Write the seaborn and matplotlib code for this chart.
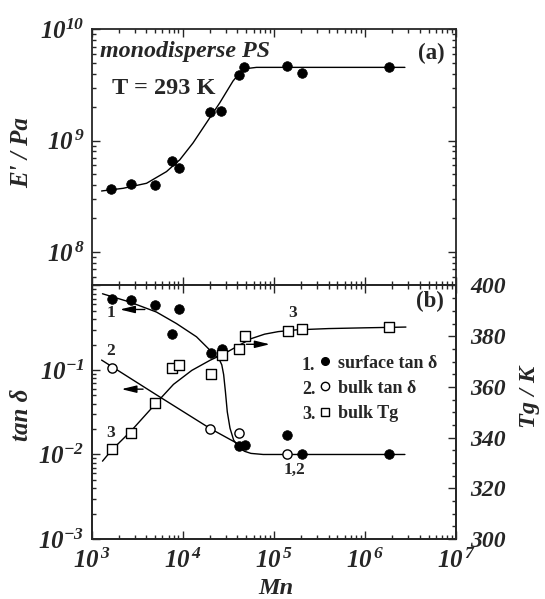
import numpy as np
import pandas as pd
import matplotlib
matplotlib.use("Agg")
import matplotlib.pyplot as plt
import seaborn as sns
from matplotlib.lines import Line2D
from matplotlib.ticker import LogLocator, MultipleLocator, NullFormatter
from matplotlib.font_manager import FontProperties

# ---------------- data ----------------
# panel (a): storage modulus
mn_a = [1655, 2700, 4920, 7550, 9010, 20000, 26700, 41700, 47700, 140000, 205000, 1.82e6]
e_a = [3.68e8, 4.06e8, 3.97e8, 6.59e8, 5.73e8, 1.82e9, 1.86e9, 3.87e9, 4.6e9, 4.7e9, 4.05e9, 4.6e9]
fit_a_mn = [1290, 2220, 4020, 6650, 9310, 13000, 18300, 25600, 35800, 46100, 64700, 117000, 2.75e6]
fit_a_e = [3.53e8, 3.73e8, 4.14e8, 5.27e8, 6.73e8, 9.53e8, 1.45e9, 2.19e9, 3.44e9, 4.40e9, 4.55e9, 4.55e9, 4.55e9]

# panel (b): surface tan delta
mn_surf = [1660, 2700, 4950, 7600, 9010, 20400, 26900, 41400, 48200, 140000, 205000, 1.85e6]
tan_surf = [0.684, 0.667, 0.593, 0.268, 0.523, 0.157, 0.177, 0.0125, 0.0131, 0.0172, 0.0100, 0.0100]
fit_surf_mn = [1320, 2630, 5160, 8570, 14200, 19900, 25100, 26900, 28200, 29500, 30900, 33100,
               36300, 41700, 47900, 56200, 76600, 2.75e6]
fit_surf_tan = [0.798, 0.637, 0.485, 0.354, 0.247, 0.172, 0.135, 0.115, 0.088, 0.055, 0.032, 0.0205,
                0.0148, 0.0120, 0.0109, 0.0103, 0.0100, 0.0100]

# panel (b): bulk tan delta
mn_bulk = [1660, 20200, 41700, 140000]
tan_bulk = [0.106, 0.0202, 0.018, 0.0100]
fit_bulk_mn = [1290, 5160, 20200, 38900, 44400]
fit_bulk_tan = [0.131, 0.0508, 0.0202, 0.0137, 0.0118]

# panel (b): bulk Tg (right axis)
mn_tg = [1660, 2700, 4950, 7600, 9080, 20400, 26900, 41700, 48200, 144000, 205000, 1.84e6]
tg = [335.3, 341.9, 353.8, 367.6, 368.8, 365.1, 372.5, 375.1, 380.1, 382.1, 382.7, 383.6]
fit_tg_mn = [1320, 1660, 2700, 4950, 7940, 12600, 20000, 28200, 39800, 56200, 79400, 112000,
             178000, 398000, 1.0e6, 2.82e6]
fit_tg = [330.7, 335.0, 342.5, 353.0, 361.0, 366.5, 370.5, 373.0, 376.0, 379.0, 380.8, 381.8,
          382.5, 383.0, 383.3, 383.6]

x_ticks = [1e3, 1e4, 1e5, 1e6, 1e7]
x_tick_labels = [r'$10^{\,3}$', r'$10^{\,4}$', r'$10^{\,5}$', r'$10^{\,6}$', r'$10^{\,7}$']
ya_ticks = [1e8, 1e9, 1e10]
ya_tick_labels = [r'$10^{\,8}$', r'$10^{\,9}$', r'$10^{10}$']
yb_ticks = [1e-3, 1e-2, 1e-1, 1]
yb_tick_labels = [r'$10^{-3}$', r'$10^{-2}$', r'$10^{-1}$', '']
tg_ticks = [300, 320, 340, 360, 380, 400]
legend_labels = ['surface tan δ', 'bulk tan δ', 'bulk Tg']

# ---------------- style ----------------
sns.set_style("ticks")
plt.rcParams['font.family'] = ['Liberation Serif', 'DejaVu Serif']
plt.rcParams['mathtext.fontset'] = 'custom'
plt.rcParams['mathtext.rm'] = 'Liberation Serif:bold:italic'
plt.rcParams['mathtext.it'] = 'Liberation Serif:bold:italic'
plt.rcParams['mathtext.bf'] = 'Liberation Serif:bold:italic'

fig = plt.figure(figsize=(5.45, 5.99), dpi=100)
ax_a = fig.add_axes([0.1679, 0.5234, 0.6688, 0.4277])
ax_b = fig.add_axes([0.1679, 0.1002, 0.6688, 0.4232])
ax_t = ax_b.twinx()

for ax in (ax_a, ax_b):
    ax.set_xscale('log')
    ax.set_yscale('log')
    ax.set_xlim(1e3, 1e7)
ax_t.set_xscale('log')
ax_a.set_ylim(5e7, 1e10)
ax_b.set_ylim(1e-3, 1)
ax_t.set_ylim(300, 400)
ax_t.set_xlim(1e3, 1e7)

lw_fit = 1.0
# panel (a)
sns.lineplot(x=fit_a_mn, y=fit_a_e, ax=ax_a, color='k', lw=lw_fit, sort=False, estimator=None)
sns.scatterplot(x=mn_a, y=e_a, ax=ax_a, color='k', marker='o', s=48, edgecolor='k', linewidth=0.5, zorder=3)

# panel (b)
sns.lineplot(x=fit_surf_mn, y=fit_surf_tan, ax=ax_b, color='k', lw=lw_fit, sort=False, estimator=None)
sns.lineplot(x=fit_bulk_mn, y=fit_bulk_tan, ax=ax_b, color='k', lw=lw_fit, sort=False, estimator=None)
sns.scatterplot(x=mn_surf, y=tan_surf, ax=ax_b, color='k', marker='o', s=48, edgecolor='k', linewidth=0.5, zorder=3)
sns.scatterplot(x=mn_bulk, y=tan_bulk, ax=ax_b, color='white', marker='o', s=44, edgecolor='k', linewidth=1.0, zorder=4)
sns.lineplot(x=fit_tg_mn, y=fit_tg, ax=ax_t, color='k', lw=lw_fit, sort=False, estimator=None)
sns.scatterplot(x=mn_tg, y=tg, ax=ax_t, color='white', marker='s', s=44, edgecolor='k', linewidth=1.0, zorder=4)

# ---------------- axes / ticks ----------------
for ax in (ax_a, ax_b, ax_t):
    for sp in ax.spines.values():
        sp.set_linewidth(1.3)
        sp.set_visible(True)

ax_a.set_xticks(x_ticks)
ax_a.xaxis.set_minor_locator(LogLocator(base=10, subs=np.arange(2, 10)))
ax_a.xaxis.set_minor_formatter(NullFormatter())
ax_a.set_yticks(ya_ticks, labels=ya_tick_labels, fontsize=18)
ax_a.yaxis.set_minor_locator(LogLocator(base=10, subs=np.arange(2, 10)))
ax_a.yaxis.set_minor_formatter(NullFormatter())
ax_a.tick_params(axis='both', which='both', direction='in', top=True, right=True,
                 labelbottom=False, width=1.0)
ax_a.tick_params(which='major', length=5.5, pad=5)
ax_a.tick_params(which='minor', length=3)

ax_b.set_xticks(x_ticks, labels=x_tick_labels, fontsize=18)
ax_b.xaxis.set_minor_locator(LogLocator(base=10, subs=np.arange(2, 10)))
ax_b.xaxis.set_minor_formatter(NullFormatter())
ax_b.set_yticks(yb_ticks, labels=yb_tick_labels, fontsize=18)
ax_b.yaxis.set_minor_locator(LogLocator(base=10, subs=np.arange(2, 10)))
ax_b.yaxis.set_minor_formatter(NullFormatter())
ax_b.tick_params(axis='both', which='both', direction='in', top=True, right=False, width=1.0)
ax_b.tick_params(which='major', length=5.5)
ax_b.tick_params(axis='y', which='major', pad=5)
ax_b.tick_params(axis='x', which='major', pad=7)
ax_b.tick_params(which='minor', length=3)

ax_t.set_yticks(tg_ticks, labels=[str(t) for t in tg_ticks], fontsize=17)
for lab in ax_t.get_yticklabels():
    lab.set_fontweight('bold')
    lab.set_fontstyle('italic')
ax_t.yaxis.set_minor_locator(MultipleLocator(5))
ax_t.tick_params(axis='y', which='both', direction='in', right=True, left=False, width=1.0)
ax_t.tick_params(axis='y', which='major', length=5.5, pad=10)
ax_t.tick_params(axis='y', which='minor', length=3)
ax_t.tick_params(axis='x', which='both', bottom=False, top=False, labelbottom=False, labeltop=False)

lab_kw = dict(fontsize=18, fontweight='bold', fontstyle='italic')
ax_a.set_ylabel("E' / Pa", **lab_kw)
ax_a.yaxis.set_label_coords(-0.16, 0.52)
ax_b.set_ylabel("tan δ", **lab_kw)
ax_b.yaxis.set_label_coords(-0.16, 0.49)
ax_b.set_xlabel("Mn", fontsize=17.5, fontweight='bold', fontstyle='italic')
ax_b.xaxis.set_label_coords(0.507, -0.152)
ax_t.set_ylabel("Tg / K", fontsize=17.5, fontweight='bold', fontstyle='italic')
ax_t.yaxis.set_label_coords(1.172, 0.56)

# ---------------- annotations ----------------
ax_a.text(0.023, 0.913, "monodisperse PS", transform=ax_a.transAxes, fontsize=17.3,
          fontweight='bold', fontstyle='italic', ha='left', va='center')
ax_a.text(0.055, 0.77, "T = 293 K", transform=ax_a.transAxes, fontsize=17.5,
          fontweight='bold', ha='left', va='center')
ax_a.text(0.97, 0.904, "(a)", transform=ax_a.transAxes, fontsize=16.5,
          fontweight='bold', ha='right', va='center')
ax_t.text(0.966, 0.936, "(b)", transform=ax_b.transAxes, fontsize=16.5,
          fontweight='bold', ha='right', va='center')

num_kw = dict(fontsize=12.5, fontweight='bold', ha='center', va='center')
ax_t.text(0.0535, 0.890, "1", transform=ax_b.transAxes, **num_kw)
ax_t.text(0.0535, 0.743, "2", transform=ax_b.transAxes, **num_kw)
ax_t.text(0.0535, 0.417, "3", transform=ax_b.transAxes, **num_kw)
ax_t.text(0.551, 0.890, "3", transform=ax_b.transAxes, **num_kw)
ax_t.text(0.558, 0.272, "1,2", transform=ax_b.transAxes, **num_kw)

arrow_kw = dict(arrowstyle='-|>,head_length=0.9,head_width=0.22', color='k', lw=1.0,
                mutation_scale=10, shrinkA=0, shrinkB=0)
ax_b.annotate("", xy=(2050, 0.52), xytext=(3850, 0.52), arrowprops=arrow_kw)
ax_b.annotate("", xy=(2130, 0.0593), xytext=(3680, 0.0593), arrowprops=arrow_kw)
ax_t.annotate("", xy=(90600, 376.8), xytext=(50100, 376.8), arrowprops=arrow_kw)

# legend
handles = [
    Line2D([], [], ls='none', marker='o', color='k', ms=5.5),
    Line2D([], [], ls='none', marker='o', mfc='white', mec='k', mew=1.0, ms=6),
    Line2D([], [], ls='none', marker='s', mfc='white', mec='k', mew=1.0, ms=6),
]
leg = ax_t.legend(handles=handles, labels=legend_labels, loc='upper left',
                  bbox_to_anchor=(0.621, 0.727), bbox_transform=ax_b.transAxes,
                  frameon=False, handlelength=0.8, handletextpad=0.3,
                  labelspacing=0.45, borderpad=0, borderaxespad=0,
                  prop=FontProperties(family='Liberation Serif', weight='bold', size=13))
for i, y in enumerate([0.686, 0.588, 0.493]):
    ax_t.text(0.577, y, f"{i + 1}.", transform=ax_b.transAxes, fontsize=13,
              fontweight='bold', ha='left', va='center')

fig.savefig("out.png", dpi=100)
